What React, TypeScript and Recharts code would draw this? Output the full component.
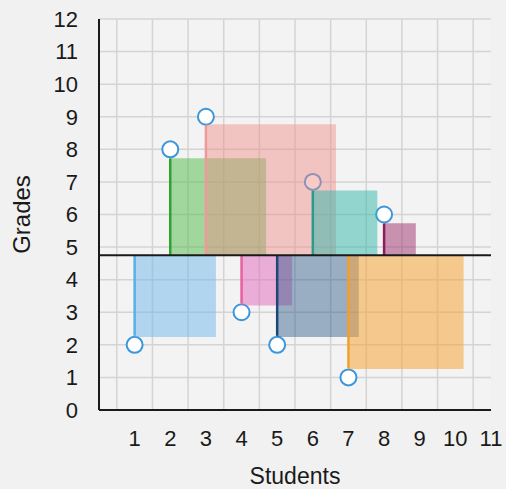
import React from 'react';
import {
  ComposedChart,
  XAxis,
  YAxis,
  CartesianGrid,
  Scatter,
  ReferenceArea,
  ReferenceLine,
} from 'recharts';

// Data
const students = [1, 2, 3, 4, 5, 6, 7, 8];
const grades = [2, 8, 9, 3, 2, 7, 1, 6];
const meanGrade = 4.75;
// far edges of each student's shaded box (x right edge, y far edge)
const boxRight = [3.28, 4.69, 6.65, 5.42, 7.29, 7.81, 10.23, 8.89];
const boxEdge = [2.24, 7.73, 8.77, 3.21, 2.24, 6.74, 1.26, 5.73];
const xTicks = [1, 2, 3, 4, 5, 6, 7, 8, 9, 10, 11];
const yTicks = [0, 1, 2, 3, 4, 5, 6, 7, 8, 9, 10, 11, 12];
const gridXTicks = [0.5, 1.5, 2.5, 3.5, 4.5, 5.5, 6.5, 7.5, 8.5, 9.5, 10.5];

const stemColors = ['#5aafe6', '#2ea42e', '#f09a98', '#e8609e', '#1d4776', '#2a9c8c', '#f0a030', '#8c1c5c'];
const boxColors = ['#6fb8ec', '#4fbb45', '#f08c88', '#df68bd', '#1f4f80', '#2fb8aa', '#f5a43a', '#a0306e'];
const boxOpacity = [0.5, 0.5, 0.45, 0.5, 0.42, 0.5, 0.55, 0.5];

const points = students.map((s, i) => ({ x: s, y: grades[i] }));

const FONT = '"Liberation Sans", Arial, Helvetica, sans-serif';
const DOT_R = 8;

const Dot = (props: any) => {
  const { cx, cy } = props;
  return <circle cx={cx} cy={cy} r={DOT_R} fill="#ffffff" stroke="#3b96da" strokeWidth={2} />;
};

// stem drawn from the mean line up/down to the edge of the marker
const Stem = (props: any) => {
  const { x1, y1, x2, y2, stroke, strokeWidth } = props;
  const len = Math.hypot(x2 - x1, y2 - y1) || 1;
  const cut = DOT_R + 1;
  const ex = x2 - ((x2 - x1) / len) * cut;
  const ey = y2 - ((y2 - y1) / len) * cut;
  return <line x1={x1} y1={y1} x2={ex} y2={ey} stroke={stroke} strokeWidth={strokeWidth} />;
};

export default function App() {
  return (
    <div style={{ position: 'absolute', left: 0, top: 0, width: 506, height: 489, background: '#f1f1f1' }}>
      <ComposedChart
        width={506}
        height={489}
        margin={{ top: 19, right: 15, bottom: 0, left: 0 }}
        style={{ fontFamily: FONT }}
      >
        <CartesianGrid
          stroke="#d4d4d4"
          strokeWidth={1.5}
          fill="#f3f3f3"
          horizontalValues={yTicks}
          verticalValues={gridXTicks}
        />
        <XAxis
          type="number"
          dataKey="x"
          domain={[0, 11]}
          ticks={xTicks}
          interval={0}
          height={79}
          tickLine={false}
          tickSize={0}
          tickMargin={20}
          axisLine={{ stroke: '#1a1a1a', strokeWidth: 2 }}
          tick={{ fill: '#1a1a1a', fontSize: 22, fontFamily: FONT }}
          allowDataOverflow
          label={{
            content: ({ viewBox }: any) => (
              <text
                x={viewBox.x + viewBox.width / 2}
                y={viewBox.y + 66}
                textAnchor="middle"
                dominantBaseline="central"
                fontSize={23}
                fill="#1a1a1a"
                fontFamily={FONT}
              >
                Students
              </text>
            ),
          }}
        />
        <XAxis
          xAxisId="top"
          orientation="top"
          type="number"
          domain={[0, 11]}
          height={0}
          tick={false}
          tickLine={false}
          axisLine={{ stroke: '#555555', strokeWidth: 1.5 }}
        />
        <YAxis
          type="number"
          dataKey="y"
          domain={[0, 12]}
          ticks={yTicks}
          interval={0}
          width={99}
          tickLine={false}
          tickSize={0}
          tickMargin={21}
          axisLine={{ stroke: '#1a1a1a', strokeWidth: 2 }}
          tick={{ fill: '#1a1a1a', fontSize: 22, fontFamily: FONT }}
          allowDataOverflow
          label={{
            content: ({ viewBox }: any) => {
              const cx = viewBox.x + 21;
              const cy = viewBox.y + viewBox.height / 2;
              return (
                <text
                  x={cx}
                  y={cy}
                  transform={`rotate(-90 ${cx} ${cy})`}
                  textAnchor="middle"
                  dominantBaseline="central"
                  fontSize={24}
                  fill="#1a1a1a"
                  fontFamily={FONT}
                >
                  Grades
                </text>
              );
            },
          }}
        />
        <YAxis
          yAxisId="right"
          orientation="right"
          type="number"
          domain={[0, 12]}
          width={0}
          tick={false}
          tickLine={false}
          axisLine={{ stroke: '#555555', strokeWidth: 1.5 }}
        />
        <Scatter data={points} dataKey="y" shape={<Dot />} isAnimationActive={false} zIndex={50} />
        {students.map((s, i) => (
          <ReferenceArea
            key={'box' + s}
            x1={s}
            x2={boxRight[i]}
            y1={meanGrade}
            y2={boxEdge[i]}
            fill={boxColors[i]}
            fillOpacity={boxOpacity[i]}
            stroke="none"
            zIndex={100}
          />
        ))}
        {students.map((s, i) => (
          <ReferenceLine
            key={'stem' + s}
            segment={[
              { x: s, y: meanGrade },
              { x: s, y: grades[i] },
            ]}
            stroke={stemColors[i]}
            strokeWidth={2.5}
            shape={Stem}
            zIndex={200}
          />
        ))}
        <ReferenceLine y={meanGrade} stroke="#1a1a1a" strokeWidth={2} zIndex={500} />
      </ComposedChart>
    </div>
  );
}
